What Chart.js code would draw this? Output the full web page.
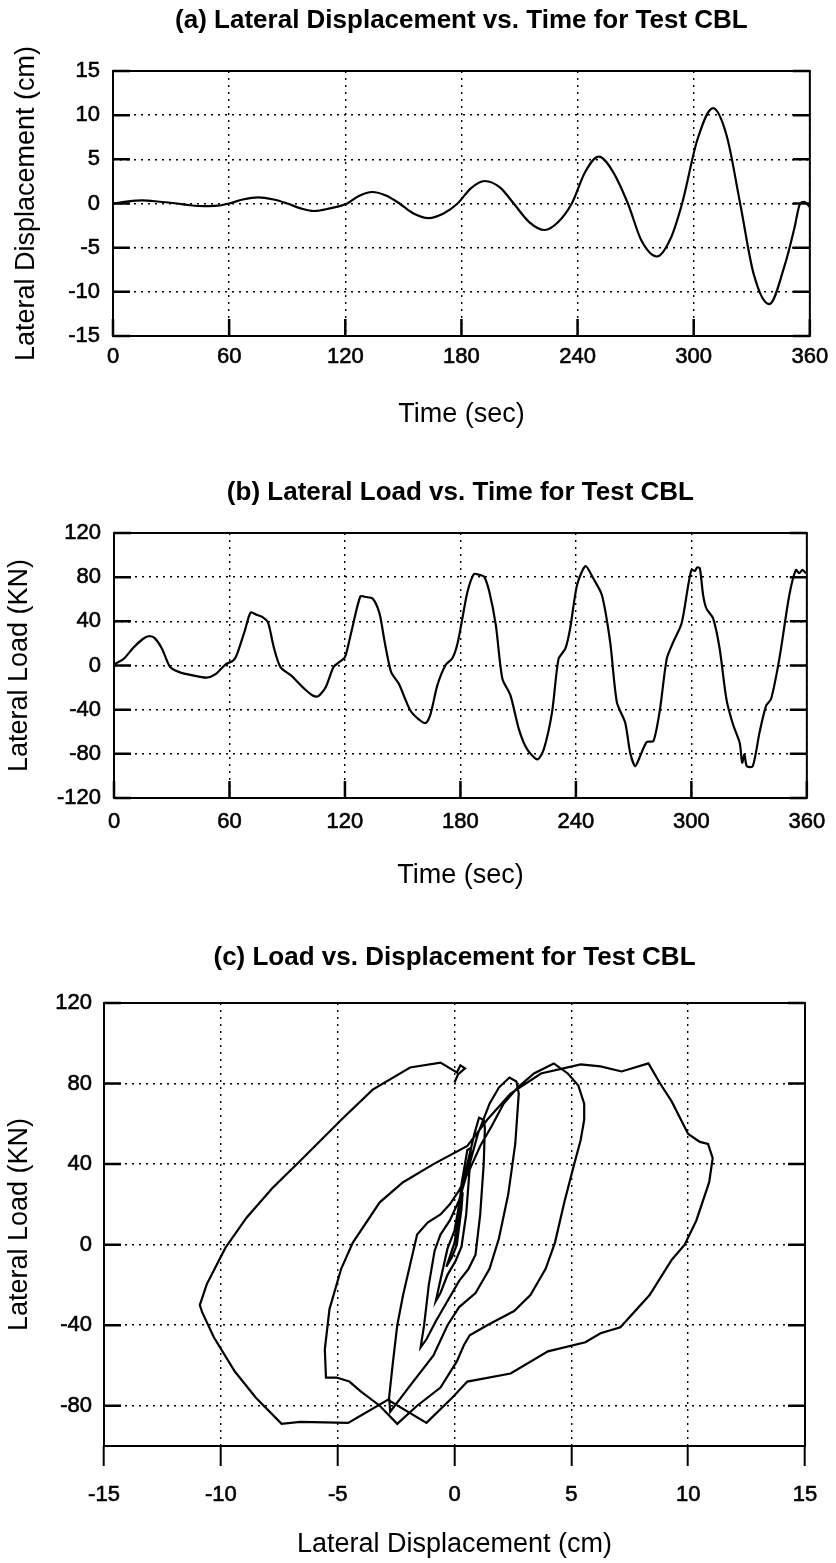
<!DOCTYPE html>
<html>
<head>
<meta charset="utf-8">
<script src="https://cdn.jsdelivr.net/npm/chart.js@4.4.1/dist/chart.umd.min.js"></script>
<style>
  html, body { margin: 0; padding: 0; background: #fff; }
  .panel { position: absolute; left: 0; width: 836px; }
</style>
</head>
<body>
<div class="panel" style="top:0;height:450px"><canvas id="dispChart"></canvas></div>
<div class="panel" style="top:450px;height:450px"><canvas id="loadChart"></canvas></div>
<div class="panel" style="top:900px;height:663px"><canvas id="loopChart"></canvas></div>
<script>
// axis ticks
const timeTicks = [0, 60, 120, 180, 240, 300, 360];
const dispTicks = [-15, -10, -5, 0, 5, 10, 15];
const loadTicks = [-120, -80, -40, 0, 40, 80, 120];
const loopLoadTicks = [-80, -40, 0, 40, 80, 120];

// (a) lateral displacement history
const timeA = [0, 8, 15, 24, 33, 40, 47, 54, 60, 67, 75, 83, 90, 97, 104, 112, 121, 127, 134, 141,
  148, 155, 163, 171, 178, 185, 192, 200, 207, 215, 223, 230, 237, 244, 251, 258, 266, 273, 281, 288,
  294, 302, 310, 317, 324, 331, 339, 347, 352, 355, 357, 360];
const dispA = [0, 0.25, 0.35, 0.2, 0, -0.2, -0.3, -0.25, 0, 0.45, 0.7, 0.45, 0, -0.55, -0.85, -0.55, 0, 0.85, 1.3, 0.9,
  0, -1.1, -1.65, -1.1, 0, 1.75, 2.55, 1.8, 0, -2.1, -3.0, -2.1, 0, 3.6, 5.3, 3.7, 0, -4.2, -6.0, -4.0,
  0, 7.3, 10.8, 7.7, 0, -8.0, -11.4, -7.0, -2.8, 0, 0.2, -0.4];

// (b) lateral load history
const timeB = [0, 5, 10, 15, 18, 21, 25, 29, 34, 41, 48, 53, 58, 62, 64, 68, 71, 74, 77, 80,
  83, 86.5, 92, 98, 103, 106, 110, 114, 117, 120, 123.5, 128, 131, 134.5, 138, 140.5, 144, 148, 154, 158.5,
  162, 164.5, 168, 172.3, 175.8, 178.5, 181, 183.7, 187, 190, 192.3, 195, 198.4, 201.8, 206, 210.4, 214.7, 220, 223.3, 227.6,
  231, 234.5, 237, 240.6, 245, 249, 253.5, 257.8, 261.3, 265.6, 268.2, 270.8, 273.4, 276.8, 280.3, 283.7, 287.2, 290.6, 294.9, 298.4,
  300.1, 301.8, 303, 304.4, 306.1, 307.8, 311.3, 314.7, 318.2, 321.6, 325.1, 326.4, 327.6, 328.8, 331.9, 335.4, 338.8, 341.4, 345.7, 350.9,
  354.3, 356, 357.7, 359.5];
const loadB = [1, 6, 16, 24, 26.5, 25, 15, -1, -6, -9, -11, -7.5, 1, 4.5, 10.6, 31.7, 48, 46, 44, 39,
  16.6, -1.5, -9, -19.6, -27, -28, -19.6, -1.5, 3, 7.5, 31.7, 62.5, 62, 60.4, 46.8, 22.7, -6, -16.6, -40.8, -49,
  -52, -43.8, -18, 0.5, 6.5, 20, 42.5, 67, 82.7, 82, 80.5, 67, 36.5, -12, -27, -57.8, -76, -85, -76, -42.5,
  6, 15.2, 33.4, 73, 90, 79, 63.8, 21.3, -33.4, -51.7, -79, -91.2, -82, -69.3, -68.4, -39.5, 6, 21.3, 38, 73,
  86.6, 85.7, 88.8, 88, 63.8, 51.7, 42.6, 15.2, -30.4, -53.2, -70, -88, -80.5, -91.2, -91.2, -60.8, -36.5, -30.4, 6, 63.8,
  86.6, 83.6, 86.6, 83.6];

// (c) load-displacement path, in test order
const dispC = [0, 0.1, 0.25, 0.35, 0.3, 0.1, -0.1, -0.3, -0.35, -0.2, 0,
  0.1, 0.3, 0.55, 0.7, 0.65, 0.5, 0.3, 0.05, -0.3, -0.6, -0.8, -0.65, -0.3, 0,
  0.2, 0.55, 0.85, 1.05, 1.25, 1.3, 1.25, 1.1, 0.9, 0.6, 0.2, -0.3, -0.8, -1.2, -1.45,
  -1.3, -1.1, -0.85, -0.6, -0.2, 0.2, 0.6, 1.0, 1.5, 1.9, 2.35, 2.65, 2.75, 2.6, 2.3, 1.9, 1.5, 0.9, 0.2, -0.3, -0.9, -1.9, -2.75,
  -2.8, -2.65, -2.45, -2.2, -1.9, -1.6, -1.15, -0.6, -0.2, 0.2, 0.6, 1.1, 1.6, 2.1, 2.7, 3.4, 4.25, 4.85, 5.3, 5.55, 5.55, 5.4,
  5.1, 4.7, 4.3, 3.9, 3.25, 2.55, 1.4, 0.65, 0.4, 0.1, -0.6, -1.6, -2.45,
  -3.2, -4.0, -4.5, -5.05, -5.5,
  -5.55, -5.35, -4.85, -4.35, -3.2, -2.2, -0.9, 0.55, 1.4, 2.4, 3.7, 5.4, 6.25, 7.15, 8.3, 8.8, 9.3, 10.0, 10.5, 10.85,
  11.05, 10.9, 10.35, 9.85, 9.3, 8.35, 7.1, 6.25, 5.6, 4.0, 2.4, 0.55, -0.1, -1.2, -2.85, -4.55, -6.6, -7.4,
  -8.5, -9.4, -10.3, -10.8, -10.9, -10.6, -9.8, -8.9, -7.8, -6.6, -4.8, -3.5, -1.9, -0.6, 0.1, 0.25, 0.45, 0.15, 0];
const loadC = [0, 8, 20, 26, 18, 0, -6, -10, -11, -6, 1,
  8, 30, 47, 48, 38, 15, -1, -8, -15, -24, -28, -20, -2, 7,
  20, 40, 55, 63, 62, 58, 40, 15, -5, -12, -18, -28, -38, -47, -51,
  -40, -20, -3, 5, 12, 22, 38, 55, 70, 78, 83, 81, 75, 50, 25, 3, -12, -24, -31, -40, -55, -70, -83,
  -76, -60, -40, -25, -10, 5, 11, 15, 20, 27, 36, 49, 59, 70, 78, 85, 90, 85, 79, 70, 62, 52,
  39, 21, 1, -12, -25, -33, -40, -45, -50, -58, -71, -80, -89,
  -80, -73, -68, -66, -66,
  -52, -32, -12, 1, 21, 31, 40, 49, 62, 75, 85, 89.5, 88.5, 86, 90, 80, 71, 55, 51, 50,
  43, 31, 12, 0, -7.5, -25, -41, -44, -48.5, -53, -64, -68, -76, -88.5, -77, -88.5, -88, -89,
  -76, -63, -46, -33.5, -30, -19.6, -1.5, 13.4, 28, 41.7, 62.5, 77, 88, 90.4, 85.5, 89, 87.5, 84.5, 80.5];

const family = "'Liberation Sans', Arial, Helvetica, sans-serif";
const tickFont = { family, size: 22 };
const axisTitleFont = { family, size: 27 };
const chartTitleFont = { family, size: 26, weight: 'bold' };

// frame around the plot area with short tick marks drawn inward
const frameTicks = {
  id: 'frameTicks',
  afterDatasetsDraw(chart, args, opts) {
    const { ctx, chartArea: a, scales: { x, y } } = chart;
    const len = opts.len;
    ctx.save();
    ctx.strokeStyle = '#000';
    ctx.lineWidth = 2;
    ctx.strokeRect(a.left, a.top, a.right - a.left, a.bottom - a.top);
    ctx.lineWidth = 2.5;
    ctx.beginPath();
    y.ticks.forEach(t => {
      const py = y.getPixelForValue(t.value);
      if (opts.left) { ctx.moveTo(a.left, py); ctx.lineTo(a.left + len, py); }
      if (opts.right) { ctx.moveTo(a.right, py); ctx.lineTo(a.right - len, py); }
    });
    if (opts.bottom) {
      x.ticks.forEach(t => {
        const px = x.getPixelForValue(t.value);
        ctx.moveTo(px, a.bottom); ctx.lineTo(px, a.bottom - len);
      });
    }
    ctx.stroke();
    ctx.restore();
  }
};

// rotated y title, free to run past the plot height
const sideTitle = {
  id: 'sideTitle',
  afterDraw(chart, args, opts) {
    const { ctx, chartArea: a } = chart;
    ctx.save();
    ctx.translate(opts.x, (a.top + a.bottom) / 2);
    ctx.rotate(-Math.PI / 2);
    ctx.font = `${axisTitleFont.size}px ${family}`;
    ctx.fillStyle = '#000';
    ctx.textAlign = 'center';
    ctx.textBaseline = 'middle';
    ctx.fillText(opts.text, 0, 0);
    ctx.restore();
  }
};

function points(xs, ys) {
  return xs.map((v, i) => ({ x: v, y: ys[i] }));
}

function makeChart(id, cfg) {
  const xAxis = {
    type: 'linear',
    min: cfg.xTicks[0],
    max: cfg.xTicks[cfg.xTicks.length - 1],
    afterBuildTicks: s => { s.ticks = cfg.xTicks.map(v => ({ value: v })); },
    afterFit: s => { s.height = cfg.xHeight; },
    ticks: {
      color: '#000', font: tickFont, padding: cfg.xPad, maxRotation: 0, autoSkip: false,
      textStrokeColor: '#000', textStrokeWidth: 0.6
    },
    grid: {
      color: '#000', lineWidth: 1.4,
      drawTicks: !!cfg.outerTicks, tickLength: cfg.outerTicks || 0,
      tickColor: '#000', tickWidth: 2, tickBorderDash: []
    },
    border: { display: false, dash: [2, 5] },
    title: { display: true, text: cfg.xTitle, color: '#000', font: axisTitleFont, padding: { top: 0, bottom: cfg.xTitlePad } }
  };
  const yAxis = {
    type: 'linear',
    min: cfg.yMin,
    max: cfg.yMax,
    afterBuildTicks: s => { s.ticks = cfg.yTicks.map(v => ({ value: v })); },
    afterFit: s => { s.width = cfg.yWidth; },
    ticks: {
      color: '#000', font: tickFont, padding: cfg.yPad, autoSkip: false,
      textStrokeColor: '#000', textStrokeWidth: 0.6
    },
    grid: { color: '#000', lineWidth: 1.4, drawTicks: false },
    border: { display: false, dash: [2, 5] }
  };
  return new Chart(document.getElementById(id), {
    type: 'scatter',
    data: {
      datasets: [{
        data: cfg.data,
        showLine: true,
        borderColor: '#000',
        borderWidth: 2.2,
        pointRadius: 0,
        tension: cfg.tension || 0,
        cubicInterpolationMode: cfg.monotone ? 'monotone' : 'default',
        fill: false
      }]
    },
    options: {
      animation: false,
      responsive: true,
      maintainAspectRatio: false,
      events: [],
      layout: { padding: { left: 0, right: cfg.right, top: 0, bottom: 0 } },
      plugins: {
        legend: { display: false },
        tooltip: { enabled: false },
        title: {
          display: true, text: cfg.title, fullSize: false, color: '#000', font: chartTitleFont,
          padding: { top: cfg.titleTop, bottom: cfg.titleBottom }
        },
        frameTicks: { left: true, right: true, bottom: !cfg.outerTicks, len: 17 },
        sideTitle: { text: cfg.yTitle, x: cfg.yTitleX }
      },
      scales: { x: xAxis, y: yAxis }
    },
    plugins: [frameTicks, sideTitle]
  });
}

makeChart('dispChart', {
  title: '(a) Lateral Displacement vs. Time for Test CBL',
  titleTop: 5.4, titleBottom: 34.4,
  data: points(timeA, dispA), monotone: true,
  xTicks: timeTicks, xHeight: 114, xPad: 7.8, xTitle: 'Time (sec)', xTitlePad: 18.8,
  yTicks: dispTicks, yMin: -15, yMax: 15, yWidth: 113, yPad: 13,
  yTitle: 'Lateral Displacement (cm)', yTitleX: 27, right: 24
});

makeChart('loadChart', {
  title: '(b) Lateral Load vs. Time for Test CBL',
  titleTop: 27.4, titleBottom: 24.4,
  data: points(timeB, loadB), tension: 0.25,
  xTicks: timeTicks, xHeight: 102, xPad: 10.8, xTitle: 'Time (sec)', xTitlePad: 7.8,
  yTicks: loadTicks, yMin: -120, yMax: 120, yWidth: 114, yPad: 13,
  yTitle: 'Lateral Load (KN)', yTitleX: 20, right: 24
});

makeChart('loopChart', {
  title: '(c) Load vs. Displacement for Test CBL',
  titleTop: 42.4, titleBottom: 29.4,
  data: points(dispC, loadC),
  xTicks: dispTicks, xHeight: 117, xPad: 15.8, outerTicks: 20, xTitle: 'Lateral Displacement (cm)', xTitlePad: 1.8,
  yTicks: loopLoadTicks, yMin: -100, yMax: 120, yWidth: 104, yPad: 12,
  yTitle: 'Lateral Load (KN)', yTitleX: 20, right: 31
});
</script>
</body>
</html>
